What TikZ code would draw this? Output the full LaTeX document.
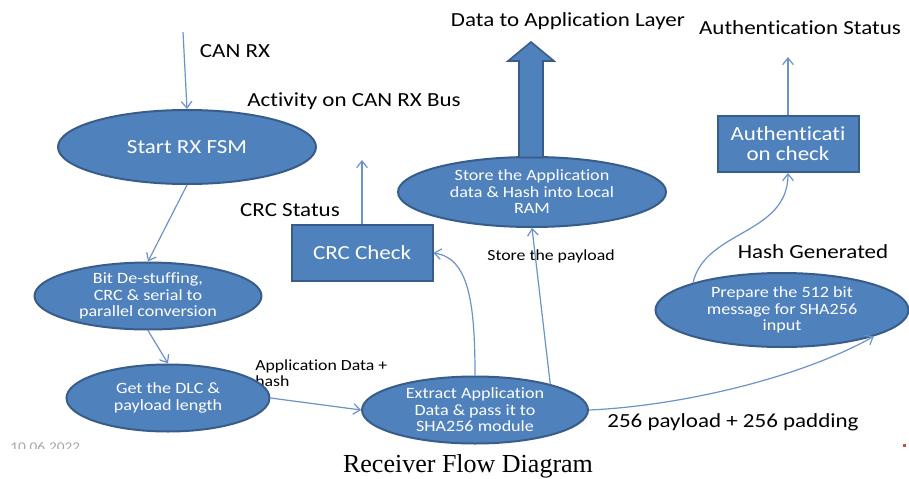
\documentclass[tikz,border=0pt]{standalone}
\usepackage{fontspec}
\setmainfont{Carlito}[FakeStretch=1.15, Ligatures=NoCommon]
\newfontfamily\captionserif{Liberation Serif}
\usetikzlibrary{arrows.meta,shapes.geometric}

\definecolor{boxfill}{HTML}{4F81BD}
\definecolor{boxedge}{HTML}{385D8A}
\definecolor{linkblue}{HTML}{6C93C9}
\definecolor{dategray}{HTML}{A6A6A6}
\definecolor{markred}{HTML}{C0504D}

\tikzset{
  proc/.style={ellipse, draw=boxedge, fill=boxfill, line width=1.5pt,
    inner sep=0pt, text=white, align=center,
    font=\fontsize{11.8}{12.4}\selectfont},
  bigproc/.style={proc, font=\fontsize{15}{15}\selectfont},
  chkbox/.style={rectangle, draw=boxedge, fill=boxfill, line width=1.5pt,
    inner sep=0pt, text=white, align=center,
    minimum width=105.75pt, minimum height=42pt,
    font=\fontsize{15}{15}\selectfont},
  lbl/.style={inner sep=0pt, text=black, font=\fontsize{15}{18}\selectfont},
  smalllbl/.style={inner sep=0pt, text=black, align=left,
    font=\fontsize{11.6}{12.2}\selectfont},
  conn/.style={draw=linkblue, line width=0.9pt,
    -{Straight Barb[length=5pt,width=8pt]}},
  bigarrow/.style={draw=boxedge, fill=boxfill, line width=1.2pt, line join=miter}
}

\begin{document}
\begin{tikzpicture}[x=0.75pt,y=-0.75pt]
\useasboundingbox (0,0) rectangle (909,478);
\fill[white] (0,0) rectangle (909,478);

% label partly hidden behind the DLC ellipse, so it goes first
\node[smalllbl, anchor=north west] (appdata) at (255,359)
  {Application Data +\\hash};

% process ellipses
\node[bigproc, minimum width=193.5pt, minimum height=55.5pt] (start) at (187,147) {Start RX FSM};
\node[proc, minimum width=170.25pt, minimum height=50.25pt] (destuff) at (148,296)
  {Bit De-stuffing,\\CRC \& serial to\\parallel conversion};
\node[proc, minimum width=152.25pt, minimum height=50.25pt] (dlc) at (168,398)
  {Get the DLC \&\\payload length};
\node[proc, minimum width=169.5pt, minimum height=50.25pt] (extract) at (475,410)
  {Extract Application\\Data \& pass it to\\SHA256 module};
\node[proc, minimum width=201pt, minimum height=52.5pt] (store) at (532,192)
  {Store the Application\\data \& Hash into Local\\RAM};
\node[proc, minimum width=189.75pt, minimum height=55.5pt] (prepare) at (782,310)
  {Prepare the 512 bit\\message for SHA256\\input};

% check boxes
\node[chkbox] (crc) at (362,253) {CRC Check};
\node[chkbox] (auth) at (788,144) {Authenticati\\on check};

% free ends
\coordinate (canin) at (183,32);
\coordinate (crcout) at (362,160);
\coordinate (authout) at (788,57);

% text labels
\node[lbl] (lcan) at (235,51) {CAN RX};
\node[lbl] (lact) at (354,101) {Activity on CAN RX Bus};
\node[lbl] (lcrc) at (290,210) {CRC Status};
\node[lbl] (ldata) at (568,21) {Data to Application Layer};
\node[lbl] (lauth) at (800,28) {Authentication Status};
\node[lbl] (lhash) at (813,252) {Hash Generated};
\node[lbl] (lpad) at (733,422) {256 payload + 256 padding};
\node[smalllbl] (lstore) at (551,256) {Store the payload};

% connectors
\draw[conn] (canin) -- (start.north);
\draw[conn] (start.south) -- (destuff.north);
\draw[conn] (destuff.south) -- (dlc.north);
\draw[conn] (dlc.east) -- (extract.west);
\draw[conn] (extract.north) .. controls (475,300) and (468,258) .. (crc.east);
\draw[conn] (extract.19) -- (store.south);
\draw[conn] (extract.east) .. controls (680,406) and (800,378) .. (prepare.-16);
\draw[conn] (prepare.163) .. controls (705,230) and (788,235) .. (auth.south);
\draw[conn] (crc.north) -- (crcout);
\draw[conn] (auth.north) -- (authout);

% wide arrow out of the RAM store
\draw[bigarrow] (519,157.5) -- (519,61) -- (508,61) -- (531,42)
  -- (554,61) -- (543,61) -- (543,157.5) -- cycle;

% caption
\node[inner sep=0pt, font=\captionserif\fontsize{19.5}{20}\selectfont] (caption)
  at (468,466) {Receiver Flow Diagram};

% date footer, only its upper edge shows
\begin{scope}
  \clip (0,440) rectangle (120,448.3);
  \node[inner sep=0pt, anchor=base west, text=dategray,
    font=\fontsize{10}{10}\selectfont] (date) at (10,451.5) {10.06.2022};
\end{scope}
\fill[markred] (903,444) rectangle (906,447);
\end{tikzpicture}
\end{document}
